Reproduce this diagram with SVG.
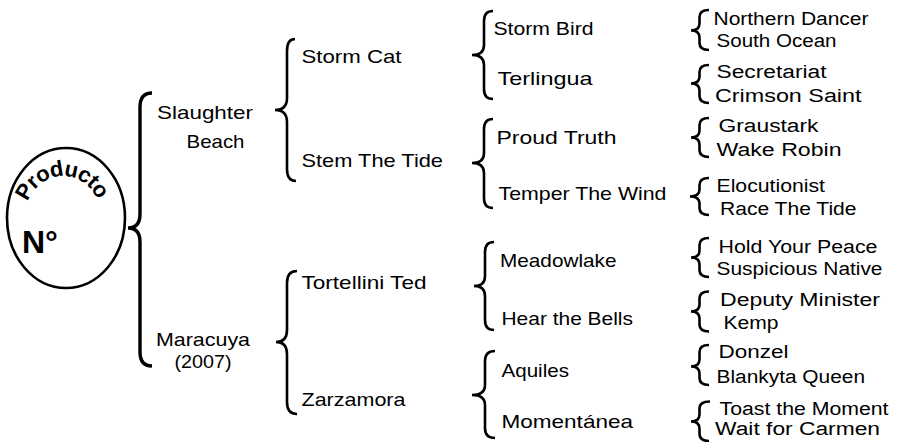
<svg xmlns="http://www.w3.org/2000/svg" width="900" height="442" viewBox="0 0 900 442">
<style>
.t{font-family:"Liberation Sans",Arial,sans-serif;font-size:19px;fill:#000}
.s{font-size:18px}
.n{font-size:32px;font-weight:bold}
.p{font-size:22px;font-weight:bold;letter-spacing:-0.8px}
.br{fill:none;stroke:#000;stroke-width:2.6}
.big{stroke-width:3.4}
</style>
<defs>
<path id="arc" d="M24,220 A39,44 0 0 1 102,220"/>
</defs>
<rect width="900" height="442" fill="#fff"/>
<g id="root">
<ellipse cx="66" cy="218" rx="59" ry="70" fill="#fff" stroke="#000" stroke-width="2.6"/>
<text class="t p"><textPath href="#arc" startOffset="49%" text-anchor="middle">Producto</textPath></text>
<text class="t n" x="22" y="253">N°</text>
</g>
<g id="connectors">
<path class="br big" d="M152,93 Q140,93 140,107 L140,214 Q140,228 128,228 Q140,228 140,242 L140,352 Q140,366 152,366"/>
<path class="br" d="M295,39 Q287,39 287,51 L287,98 Q287,110 275,110 Q287,110 287,122 L287,169 Q287,181 296,181"/>
<path class="br" d="M297,271 Q287,271 287,283 L287,330 Q287,342 276,342 Q287,342 287,354 L287,402 Q287,414 297,414"/>
<path class="br" d="M493,11 Q484,11 484,21 L484,45 Q484,55 472,55 Q484,55 484,65 L484,89 Q484,99 493,99"/>
<path class="br" d="M493,119 Q484,119 484,129 L484,153 Q484,163 472,163 Q484,163 484,173 L484,198 Q484,208 493,208"/>
<path class="br" d="M494,242 Q485,242 485,252 L485,276 Q485,286 474,286 Q485,286 485,296 L485,320 Q485,330 494,330"/>
<path class="br" d="M495,351 Q485,351 485,361 L485,385 Q485,395 472,395 Q485,395 485,405 L485,428 Q485,438 495,438"/>
<path class="br" d="M709,10 Q699.5,10 699.5,17 L699.5,23.5 Q699.5,30.5 691,30.5 Q699.5,30.5 699.5,37.5 L699.5,43 Q699.5,50 709,50"/>
<path class="br" d="M709,65 Q699.5,65 699.5,72 L699.5,76.5 Q699.5,83.5 691,83.5 Q699.5,83.5 699.5,90.5 L699.5,96 Q699.5,103 709,103"/>
<path class="br" d="M709,118 Q699.5,118 699.5,125 L699.5,130.5 Q699.5,137.5 691,137.5 Q699.5,137.5 699.5,144.5 L699.5,150 Q699.5,157 709,157"/>
<path class="br" d="M709,178 Q699.5,178 699.5,185 L699.5,189.5 Q699.5,196.5 690,196.5 Q699.5,196.5 699.5,203.5 L699.5,208 Q699.5,215 709,215"/>
<path class="br" d="M709,238 Q699.5,238 699.5,245 L699.5,250.5 Q699.5,257.5 691,257.5 Q699.5,257.5 699.5,264.5 L699.5,270 Q699.5,277 709,277"/>
<path class="br" d="M709,291.5 Q699.5,291.5 699.5,298.5 L699.5,304.5 Q699.5,311.5 691,311.5 Q699.5,311.5 699.5,318.5 L699.5,324.5 Q699.5,331.5 709,331.5"/>
<path class="br" d="M709,345 Q699.5,345 699.5,352 L699.5,359.5 Q699.5,366.5 691,366.5 Q699.5,366.5 699.5,373.5 L699.5,378 Q699.5,385 709,385"/>
<path class="br" d="M710,401.5 Q699.5,401.5 699.5,408.5 L699.5,414.5 Q699.5,421.5 691,421.5 Q699.5,421.5 699.5,428.5 L699.5,434 Q699.5,441 709,441"/>
</g>
<g id="slaughter-beach"><text class="t" x="157" y="119" textLength="96" lengthAdjust="spacingAndGlyphs">Slaughter</text><text class="t" x="186.5" y="148" textLength="58" lengthAdjust="spacingAndGlyphs">Beach</text></g>
<g id="maracuya"><text class="t" x="156" y="345.5" textLength="94" lengthAdjust="spacingAndGlyphs">Maracuya</text><text class="t" x="174.5" y="368" textLength="57" lengthAdjust="spacingAndGlyphs">(2007)</text></g>
<g id="storm-cat"><text class="t" x="301.5" y="63" textLength="100" lengthAdjust="spacingAndGlyphs">Storm Cat</text></g>
<g id="stem-the-tide"><text class="t" x="301.5" y="167" textLength="141.5" lengthAdjust="spacingAndGlyphs">Stem The Tide</text></g>
<g id="tortellini-ted"><text class="t" x="301.5" y="289" textLength="125" lengthAdjust="spacingAndGlyphs">Tortellini Ted</text></g>
<g id="zarzamora"><text class="t" x="301.5" y="406" textLength="104" lengthAdjust="spacingAndGlyphs">Zarzamora</text></g>
<g id="storm-bird"><text class="t" x="493.5" y="35" textLength="100" lengthAdjust="spacingAndGlyphs">Storm Bird</text></g>
<g id="terlingua"><text class="t" x="497.5" y="85" textLength="95" lengthAdjust="spacingAndGlyphs">Terlingua</text></g>
<g id="proud-truth"><text class="t" x="496.5" y="144" textLength="120" lengthAdjust="spacingAndGlyphs">Proud Truth</text></g>
<g id="temper-the-wind"><text class="t" x="498.5" y="200" textLength="168" lengthAdjust="spacingAndGlyphs">Temper The Wind</text></g>
<g id="meadowlake"><text class="t" x="500" y="267" textLength="116.5" lengthAdjust="spacingAndGlyphs">Meadowlake</text></g>
<g id="hear-the-bells"><text class="t" x="501.5" y="325" textLength="131.5" lengthAdjust="spacingAndGlyphs">Hear the Bells</text></g>
<g id="aquiles"><text class="t" x="501.5" y="377" textLength="67.5" lengthAdjust="spacingAndGlyphs">Aquiles</text></g>
<g id="momentanea"><text class="t" x="501.5" y="428" textLength="131.5" lengthAdjust="spacingAndGlyphs">Momentánea</text></g>
<g id="northern-dancer"><text class="t s" x="713.5" y="25" textLength="155" lengthAdjust="spacingAndGlyphs">Northern Dancer</text></g>
<g id="south-ocean"><text class="t s" x="716.5" y="46.5" textLength="120" lengthAdjust="spacingAndGlyphs">South Ocean</text></g>
<g id="secretariat"><text class="t s" x="716.5" y="78" textLength="110" lengthAdjust="spacingAndGlyphs">Secretariat</text></g>
<g id="crimson-saint"><text class="t s" x="715" y="101.5" textLength="146.5" lengthAdjust="spacingAndGlyphs">Crimson Saint</text></g>
<g id="graustark"><text class="t s" x="718.5" y="131.5" textLength="100" lengthAdjust="spacingAndGlyphs">Graustark</text></g>
<g id="wake-robin"><text class="t s" x="716.5" y="156" textLength="125" lengthAdjust="spacingAndGlyphs">Wake Robin</text></g>
<g id="elocutionist"><text class="t s" x="716.5" y="191.5" textLength="108.5" lengthAdjust="spacingAndGlyphs">Elocutionist</text></g>
<g id="race-the-tide"><text class="t s" x="720" y="215" textLength="136.5" lengthAdjust="spacingAndGlyphs">Race The Tide</text></g>
<g id="hold-your-peace"><text class="t s" x="718.5" y="253" textLength="159" lengthAdjust="spacingAndGlyphs">Hold Your Peace</text></g>
<g id="suspicious-native"><text class="t s" x="716.5" y="275" textLength="166" lengthAdjust="spacingAndGlyphs">Suspicious Native</text></g>
<g id="deputy-minister"><text class="t s" x="720" y="306" textLength="160" lengthAdjust="spacingAndGlyphs">Deputy Minister</text></g>
<g id="kemp"><text class="t s" x="723.5" y="329" textLength="55" lengthAdjust="spacingAndGlyphs">Kemp</text></g>
<g id="donzel"><text class="t s" x="718.5" y="358" textLength="70" lengthAdjust="spacingAndGlyphs">Donzel</text></g>
<g id="blankyta-queen"><text class="t s" x="716.5" y="382.5" textLength="148.5" lengthAdjust="spacingAndGlyphs">Blankyta Queen</text></g>
<g id="toast-the-moment"><text class="t s" x="719.5" y="415" textLength="169" lengthAdjust="spacingAndGlyphs">Toast the Moment</text></g>
<g id="wait-for-carmen"><text class="t s" x="715" y="435" textLength="165" lengthAdjust="spacingAndGlyphs">Wait for Carmen</text></g>
</svg>
